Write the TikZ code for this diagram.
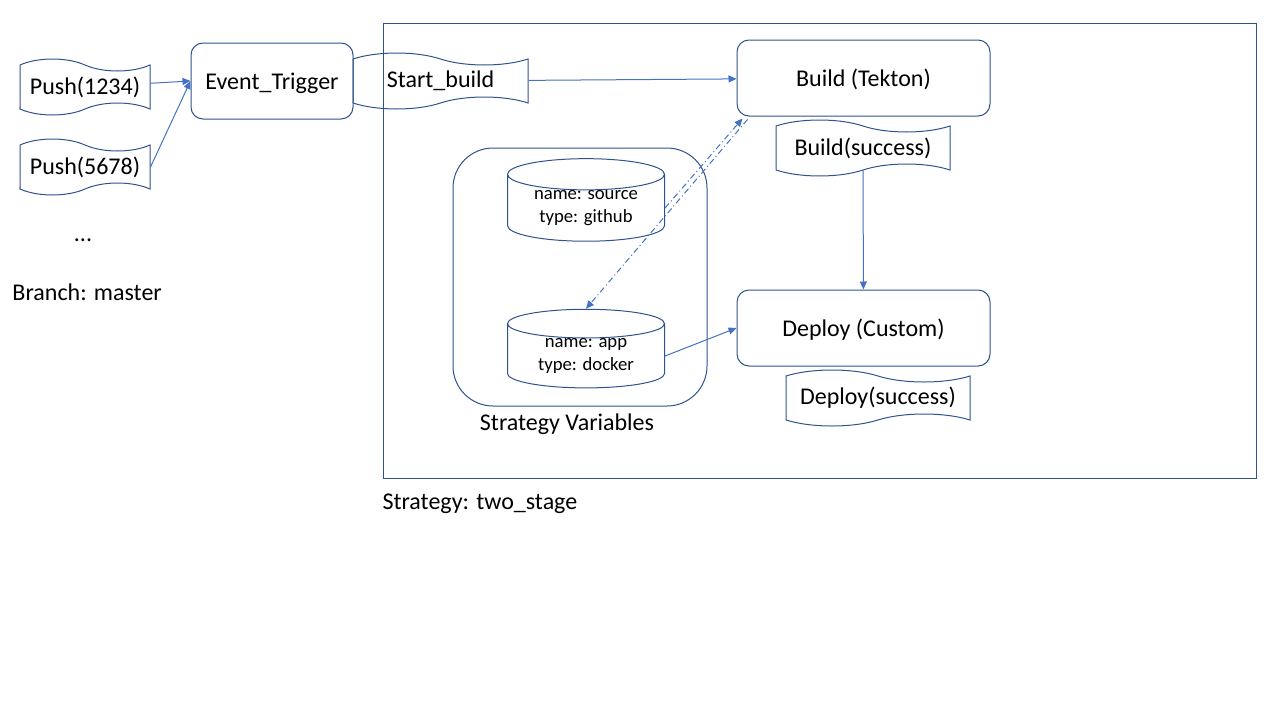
\documentclass[tikz,border=0pt]{standalone}
\usepackage{fontspec}
\setmainfont{Carlito}
\usetikzlibrary{shapes.symbols,shapes.geometric,arrows.meta}
\definecolor{edge}{HTML}{2F528F}
\definecolor{link}{HTML}{4472C4}
\tikzset{
  big/.style={font=\fontsize{24}{28}\selectfont},
  wave/.style={big,tape,draw=edge,tape bend top=out and in,tape bend bottom=in and out,tape bend height=12pt,minimum height=56pt,inner sep=0pt},
  stage/.style={big,draw=edge,rounded corners=12pt,minimum width=253pt,minimum height=76pt,text height=20pt,text depth=4pt},
  store/.style={cylinder,shape border rotate=90,aspect=0.3,draw=edge,minimum width=157pt,minimum height=77pt,inner sep=0pt,align=center,font=\fontsize{18.67}{23}\selectfont},
  flow/.style={draw=link,-{Triangle[length=8pt,width=7pt]}},
  hint/.style={flow,dash pattern=on 6pt off 3pt on 1pt off 3pt}
}
\begin{document}
\begin{tikzpicture}[x=1pt,y=-1pt,line width=1pt]
  \useasboundingbox (0,0) rectangle (1280,720);
  \node[draw=edge,minimum width=873pt,minimum height=455pt] (strategy) at (819.5,250.5) {};
  \node[big,anchor=west,inner sep=0pt] at (382,504) {Strategy: two\_stage};
  \node[wave,minimum width=130pt] (p1) at (85,87) {Push(1234)};
  \node[wave,minimum width=130pt] (p2) at (85,167) {Push(5678)};
  \node[big] (more) at (83,240) {...};
  \node[big,anchor=west,inner sep=0pt] (branch) at (12,292) {Branch: master};
  \node[stage,minimum width=162pt] (trigger) at (272,81) {Event\_Trigger};
  \node[wave,minimum width=175pt] (start) at (440.5,81) {Start\_build};
  \node[stage] (build) at (863.5,78) {Build (Tekton)};
  \node[wave,minimum width=174pt] (built) at (863,148) {Build(success)};
  \node[stage] (deploy) at (863.5,328) {Deploy (Custom)};
  \node[wave,minimum width=184pt] (deployed) at (878,398) {Deploy(success)};
  \node[draw=edge,rounded corners=40pt,minimum width=254pt,minimum height=258pt] (vars) at (580,277) {};
  \node[big] at (567,424) {Strategy Variables};
  \node[store] (src) at (586,208) {name: source\\type: github};
  \node[store] (app) at (586,356) {name: app\\type: docker};
  \draw[flow] (p1) -- (trigger.west);
  \draw[flow] (p2.east) -- (trigger.west);
  \draw[flow] (start) -- (build);
  \draw[flow] (built) -- (deploy);
  \draw[flow] (app.east) -- (deploy.west);
  \draw[hint] (src.east) -- ([xshift=6pt,yshift=-2pt]build.south west);
  \draw[hint] ([xshift=11pt,yshift=-3pt]build.south west) -- (app.north);
\end{tikzpicture}
\end{document}
